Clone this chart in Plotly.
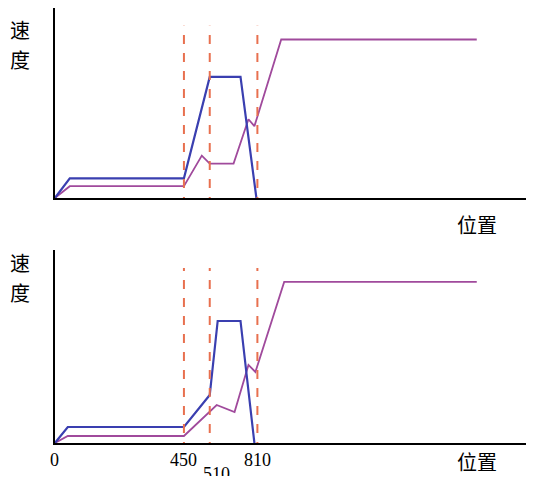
import plotly.graph_objects as go

# x units: position scaled to axis pixels; y units: speed (arbitrary)
top_blue_x = [0, 15, 130, 156, 187, 203]
top_blue_y = [0, 20, 20, 123, 123, 0]
top_purple_x = [0, 15, 130, 148, 156, 180, 195, 201, 228, 425]
top_purple_y = [0, 12, 12, 43, 35, 35, 80, 73, 161, 161]
bot_blue_x = [0, 13, 130, 156, 164, 187, 201]
bot_blue_y = [0, 16, 16, 48, 122, 122, 0]
bot_purple_x = [0, 13, 130, 156, 163, 181, 195, 202, 231, 425]
bot_purple_y = [0, 7, 7, 31, 38, 31, 78, 71, 161, 161]
dash_x = [130, 156, 204]
tick_labels = ["0", "450", "510", "810"]
tick_pos = [0, 130, 163, 204]
tick_dy = [0, 0, 14, 0]

blue = "#3a3fb0"
purple = "#a04a9c"
dash_col = "#e8704f"

W, H = 521, 468
fig = go.Figure()
for (bx, by, px, py, xa, ya) in [
    (top_blue_x, top_blue_y, top_purple_x, top_purple_y, "x", "y"),
    (bot_blue_x, bot_blue_y, bot_purple_x, bot_purple_y, "x2", "y2"),
]:
    fig.add_trace(go.Scatter(x=px, y=py, mode="lines", line=dict(color=purple, width=1.8), xaxis=xa, yaxis=ya))
    fig.add_trace(go.Scatter(x=bx, y=by, mode="lines", line=dict(color=blue, width=2.2), xaxis=xa, yaxis=ya))
    for d in dash_x:
        fig.add_shape(type="line", x0=d, x1=d, y0=-8, y1=175, xref=xa, yref=ya,
                      line=dict(color=dash_col, width=2, dash="dash"))

ax = dict(range=[0, 475], showgrid=False, zeroline=False, showticklabels=False,
          showline=True, linecolor="black", linewidth=1.5, ticks="")
ay = dict(range=[0, 193], showgrid=False, zeroline=False, showticklabels=False,
          showline=True, linecolor="black", linewidth=1.5, ticks="")
fig.update_layout(
    width=W, height=H, margin=dict(l=0, r=0, t=0, b=0),
    paper_bgcolor="white", plot_bgcolor="white", showlegend=False,
    xaxis=dict(ax, domain=[0.090, 0.995], anchor="y"),
    yaxis=dict(ay, domain=[0.594, 1.0], anchor="x"),
    xaxis2=dict(ax, domain=[0.090, 0.995], anchor="y2"),
    yaxis2=dict(ay, domain=[0.0705, 0.483], anchor="x2"),
)
font = dict(family="Noto Sans CJK SC", size=20, color="black")
for top_px in [5, 238]:
    for i, ch in enumerate(["速", "度"]):
        fig.add_annotation(xref="paper", yref="paper", x=0.0, y=1 - (top_px + i * 30) / H, text=ch,
                           showarrow=False, xanchor="left", yanchor="top", font=font)
fig.add_annotation(xref="paper", yref="paper", x=0.90, y=1 - 200 / H, text="位置", showarrow=False,
                   xanchor="center", yanchor="top", font=font)
fig.add_annotation(xref="paper", yref="paper", x=0.90, y=1 - 437 / H, text="位置", showarrow=False,
                   xanchor="center", yanchor="top", font=font)
for t, p, dy in zip(tick_labels, tick_pos, tick_dy):
    fig.add_annotation(xref="x2", yref="paper", x=p, y=1 - 440 / H, yshift=-dy, text=t, showarrow=False,
                       xanchor="center", yanchor="top",
                       font=dict(family="Liberation Serif", size=18, color="black"))
fig.write_html("out.html")
